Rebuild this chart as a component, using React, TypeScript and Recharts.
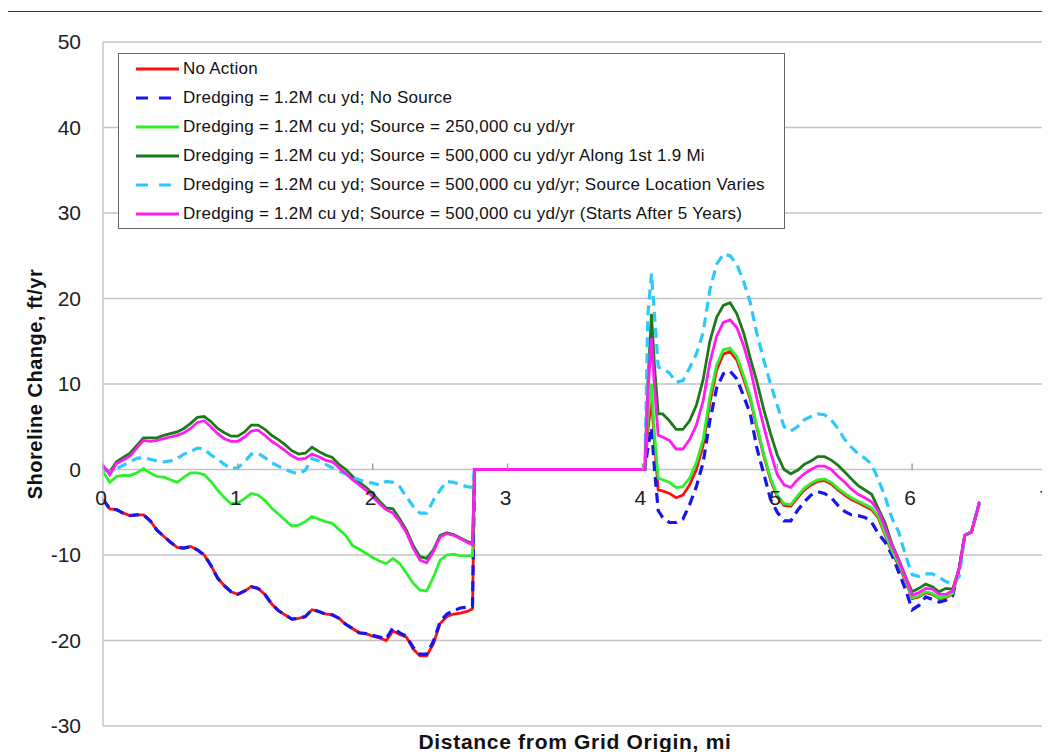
import React from "react";
import { LineChart, Line, XAxis, YAxis, CartesianGrid, Legend, Label } from "recharts";

// Distance from grid origin (mi)
const distanceMi = [
  0, 0.05, 0.1, 0.15, 0.2, 0.25, 0.3, 0.35, 0.4, 0.45,
  0.5, 0.55, 0.6, 0.65, 0.7, 0.75, 0.8, 0.85, 0.9, 0.95,
  1.0, 1.05, 1.1, 1.15, 1.2, 1.25, 1.3, 1.35, 1.4, 1.45,
  1.5, 1.55, 1.6, 1.65, 1.7, 1.75, 1.8, 1.85, 1.9, 1.95,
  2.0, 2.05, 2.1, 2.15, 2.2, 2.25, 2.3, 2.35, 2.4, 2.45,
  2.5, 2.55, 2.6, 2.65, 2.7, 2.74, 2.755,
  4.018, 4.04, 4.067, 4.09, 4.117,
  4.15, 4.2, 4.25, 4.3, 4.35, 4.4, 4.45, 4.5, 4.55, 4.6,
  4.65, 4.7, 4.75, 4.8, 4.85, 4.9, 4.95, 5.0, 5.05, 5.1,
  5.15, 5.2, 5.25, 5.3, 5.35, 5.4, 5.45, 5.5, 5.55, 5.6,
  5.65, 5.7, 5.75, 5.8, 5.85, 5.9, 5.95, 6.0, 6.05, 6.1,
  6.15, 6.2, 6.25, 6.3, 6.35, 6.39, 6.44, 6.5,
];

const noAction = [
  -3.5, -4.6, -4.7, -5.1, -5.4, -5.3, -5.3, -6.0, -7.1, -7.8,
  -8.5, -9.1, -9.2, -9.0, -9.4, -10.0, -11.2, -12.7, -13.6, -14.3,
  -14.6, -14.2, -13.7, -13.9, -14.6, -15.7, -16.5, -17.0, -17.5, -17.4,
  -17.2, -16.4, -16.6, -16.9, -17.0, -17.4, -18.1, -18.6, -19.1, -19.2,
  -19.5, -19.7, -20.0, -18.9, -19.3, -19.6, -21.0, -21.8, -21.8, -20.4,
  -18.0, -17.2, -16.9, -16.8, -16.6, -16.3, 0,
  0, 4.5, 8.3, 3.0, -2.4,
  -2.5, -2.8, -3.3, -3.0, -1.8, 0.0, 2.8, 7.8, 11.6, 13.5,
  13.8, 12.8, 10.6, 8.2, 4.8, 1.6, -1.2, -3.2, -4.2, -4.3,
  -3.3, -2.4, -1.8, -1.4, -1.3, -1.7, -2.4, -3.0, -3.5, -3.9,
  -4.3, -4.7, -5.7, -7.7, -9.7, -11.2, -13.0, -15.1, -14.9, -14.4,
  -14.6, -15.1, -15.0, -14.6, -11.5, -7.7, -7.3, -3.8,
];

const noSource = [
  -3.5, -4.6, -4.7, -5.1, -5.4, -5.3, -5.3, -6.0, -7.1, -7.8,
  -8.5, -9.1, -9.2, -9.0, -9.4, -10.0, -11.2, -12.7, -13.6, -14.3,
  -14.6, -14.2, -13.7, -13.9, -14.6, -15.7, -16.5, -17.0, -17.5, -17.4,
  -17.2, -16.4, -16.6, -16.9, -17.0, -17.4, -18.1, -18.6, -19.1, -19.2,
  -19.4, -19.6, -19.8, -18.5, -19.1, -19.5, -20.8, -21.6, -21.6, -20.1,
  -17.8, -16.9, -16.5, -16.2, -16.1, -16.0, 0,
  0, 2.5, 4.9, 0.0, -4.8,
  -5.6, -6.2, -6.2, -5.8, -4.1, -2.0, 0.8, 5.7, 9.5, 11.2,
  11.5, 10.6, 8.6, 6.5, 2.4, -0.5, -3.5, -5.0, -6.0, -6.0,
  -4.8, -3.8, -3.0, -2.6, -2.8, -3.3, -4.2, -4.9, -5.3, -5.4,
  -5.6, -6.2, -7.5, -8.5, -10.0, -12.0, -14.0, -16.4, -15.9, -14.9,
  -15.2, -15.5, -15.3, -14.8, -11.5, -7.7, -7.3, -3.8,
];

const source250k = [
  -0.3, -1.5, -0.8, -0.7, -0.7, -0.4, 0.1, -0.4, -0.8, -0.9,
  -1.2, -1.5, -0.9, -0.4, -0.4, -0.6, -1.4, -2.4, -3.3, -4.0,
  -3.9, -3.4, -2.8, -3.0, -3.6, -4.5, -5.2, -5.9, -6.6, -6.5,
  -6.1, -5.5, -5.8, -6.1, -6.3, -7.0, -7.7, -8.9, -9.3, -9.8,
  -10.3, -10.7, -11.0, -10.4, -11.0, -12.1, -13.3, -14.1, -14.2, -12.6,
  -10.6, -10.0, -9.9, -10.1, -10.1, -10.1, 0,
  0, 6.0, 10.0, 4.0, -1.0,
  -1.2, -1.5, -2.1, -2.0, -1.0, 0.8, 3.5, 8.5, 12.2, 14.0,
  14.2, 13.2, 11.0, 8.5, 5.0, 1.8, -1.0, -3.0, -4.0, -4.1,
  -3.1, -2.2, -1.6, -1.2, -1.1, -1.5, -2.2, -2.8, -3.3, -3.7,
  -4.1, -4.5, -5.5, -7.5, -9.5, -11.0, -12.8, -15.0, -14.8, -14.3,
  -14.5, -15.0, -14.9, -14.5, -11.5, -7.7, -7.3, -3.8,
];

const source500kFirst19 = [
  0.3, -0.3, 0.9, 1.4, 1.9, 2.8, 3.7, 3.7, 3.7, 4.0,
  4.2, 4.4, 4.8, 5.4, 6.1, 6.2, 5.6, 4.8, 4.3, 3.9,
  3.9, 4.4, 5.2, 5.2, 4.7, 4.0, 3.5, 2.9, 2.2, 1.8,
  1.9, 2.6, 2.1, 1.7, 1.4, 0.6, 0.0, -0.8, -1.5, -2.1,
  -2.8, -3.7, -4.5, -4.6, -5.8, -7.1, -8.9, -10.2, -10.4, -9.4,
  -7.7, -7.4, -7.6, -8.0, -8.4, -8.6, 0,
  0, 10.0, 18.2, 12.0, 6.5,
  6.5, 5.7, 4.7, 4.7, 5.7, 7.5, 10.5, 15.0, 17.8, 19.2,
  19.5, 18.2, 16.0, 13.0, 10.2, 7.0, 4.2, 1.7, 0.0, -0.5,
  -0.1, 0.6, 1.0, 1.5, 1.5, 1.1, 0.5, -0.3, -1.1, -1.9,
  -2.4, -2.9, -4.6, -6.3, -8.7, -10.5, -12.5, -14.3, -13.9, -13.4,
  -13.7, -14.3, -13.9, -14.0, -11.5, -7.7, -7.3, -3.8,
];

const sourceVaries = [
  0.0, -0.3, 0.1, 0.5, 0.9, 1.3, 1.4, 1.2, 1.0, 0.9,
  1.0, 1.3, 1.8, 2.1, 2.5, 2.4, 1.7, 1.2, 0.6, 0.1,
  0.2, 0.9, 1.8, 1.9, 1.4, 0.8, 0.4, 0.0, -0.3, -0.5,
  -0.1, 1.3, 1.0, 0.6, 0.2, -0.2, -0.5, -0.9, -1.2, -1.5,
  -1.6, -1.8, -1.4, -1.5, -2.0, -3.2, -4.3, -5.1, -5.1, -3.6,
  -2.4, -1.4, -1.5, -1.8, -2.0, -2.1, 0,
  0, 18.0, 22.9, 18.0, 12.0,
  11.8, 11.3, 10.2, 10.4, 11.9, 13.5, 16.0, 21.0, 24.0, 25.2,
  25.0, 24.0, 22.0, 19.5, 15.8, 12.8, 10.0, 7.5, 5.0, 4.5,
  5.0, 5.8, 6.2, 6.5, 6.4, 5.8, 4.8, 3.5, 2.6, 1.8,
  1.3, 0.6, -1.2, -3.2, -5.7, -7.3, -10.0, -12.3, -12.5, -12.2,
  -12.2, -12.6, -13.1, -13.4, -12.5, -7.7, -7.3, -3.8,
];

const startsAfter5 = [
  0.5, -0.6, 0.7, 1.1, 1.6, 2.5, 3.4, 3.3, 3.4, 3.6,
  3.8, 4.0, 4.3, 4.8, 5.5, 5.7, 5.0, 4.2, 3.6, 3.3,
  3.3, 3.8, 4.5, 4.6, 4.0, 3.3, 2.8, 2.2, 1.6, 1.2,
  1.3, 1.8, 1.5, 1.1, 0.9, 0.2, -0.5, -1.2, -1.8, -2.4,
  -3.2, -4.0, -4.7, -5.1, -6.1, -7.4, -9.2, -10.6, -10.9, -9.6,
  -7.9, -7.5, -7.7, -8.1, -8.5, -8.8, 0,
  0, 9.0, 15.4, 9.5, 4.0,
  3.8, 3.4, 2.4, 2.4, 3.5, 5.2, 8.0, 12.5, 15.6, 17.2,
  17.5, 16.6, 14.5, 11.8, 8.2, 5.0, 2.0, -0.6, -1.8, -2.1,
  -1.2, -0.5, 0.0, 0.4, 0.4, 0.0, -0.8, -1.5, -2.3, -2.9,
  -3.3, -3.8, -4.9, -6.8, -8.9, -10.6, -12.5, -14.7, -14.4, -13.9,
  -14.0, -14.6, -14.6, -14.2, -11.5, -7.7, -7.3, -3.8,
];

const xTicks = [0, 1, 2, 3, 4, 5, 6, 7];
const yTicks = [-30, -20, -10, 0, 10, 20, 30, 40, 50];

const seriesDefs = [
  { key: "noAction", name: "No Action", color: "#ff1010", dash: undefined as string | undefined, values: noAction },
  { key: "noSource", name: "Dredging = 1.2M cu yd; No Source", color: "#1515ee", dash: "10 6", values: noSource },
  { key: "s250", name: "Dredging = 1.2M cu yd; Source = 250,000 cu yd/yr", color: "#2ef02e", dash: undefined, values: source250k },
  { key: "s500a", name: "Dredging = 1.2M cu yd; Source = 500,000 cu yd/yr Along 1st 1.9 Mi", color: "#1c7a1c", dash: undefined, values: source500kFirst19 },
  { key: "s500v", name: "Dredging = 1.2M cu yd; Source = 500,000 cu yd/yr; Source Location Varies", color: "#2ec8ff", dash: "10 6", values: sourceVaries },
  { key: "s500d", name: "Dredging = 1.2M cu yd; Source = 500,000 cu yd/yr (Starts After 5 Years)", color: "#ff1cf0", dash: undefined, values: startsAfter5 },
];

const rows = distanceMi.map((d, i) => {
  const r: Record<string, number> = { d };
  seriesDefs.forEach((s) => {
    r[s.key] = s.values[i];
  });
  return r;
});

const W = 1042;
const H = 744;
const PLOT_TOP = 34;
const PLOT_BOTTOM = 718;
const Y_MIN = -30;
const Y_MAX = 50;
const ZERO_Y = PLOT_TOP + ((PLOT_BOTTOM - PLOT_TOP) * (Y_MAX - 0)) / (Y_MAX - Y_MIN);
const FONT = "'Liberation Sans', Arial, Helvetica, sans-serif";

const XTick = (props: any) => {
  const { x, payload } = props;
  return (
    <g>
      <line x1={x} x2={x} y1={ZERO_Y - 6} y2={ZERO_Y} stroke="#a0a0a0" strokeWidth={1.5} />
      <text x={x - 2} y={ZERO_Y + 28} textAnchor="middle" dominantBaseline="central" fontSize={21} fill="#222" fontFamily={FONT}>
        {payload.value}
      </text>
    </g>
  );
};

const LegendBox = () => (
  <div
    style={{
      width: 665,
      height: 174,
      border: "1.5px solid #666",
      background: "#fff",
      boxSizing: "content-box",
      fontFamily: FONT,
      fontSize: 17,
      letterSpacing: 0.25,
      color: "#111",
      position: "relative",
    }}
  >
    {seriesDefs.map((s, i) => (
      <div key={s.key} style={{ position: "absolute", left: 0, top: 15 + i * 29 - 10, height: 20, display: "flex", alignItems: "center", whiteSpace: "nowrap" }}>
        <svg width={64} height={20} style={{ display: "block" }}>
          <line x1={17} x2={60} y1={10} y2={10} stroke={s.color} strokeWidth={3} strokeDasharray={s.dash ? "12 11" : undefined} />
        </svg>
        <span>{s.name}</span>
      </div>
    ))}
  </div>
);

export default function App() {
  return (
    <div style={{ position: "relative", width: W, height: H }}>
      <div
        style={{
          position: "absolute",
          left: -1,
          top: 3,
          width: W + 1,
          height: H - 3,
          borderTop: "1.5px solid #333",
          borderLeft: "1.5px solid #333",
          boxSizing: "border-box",
          pointerEvents: "none",
        }}
      />
      <LineChart width={W} height={H} data={rows} margin={{ top: PLOT_TOP, right: 3, bottom: 0, left: 0 }}>
        <CartesianGrid horizontal vertical={false} stroke="#c4c4c4" strokeWidth={1.5} />
        <XAxis
          dataKey="d"
          type="number"
          domain={[0, 7]}
          ticks={xTicks}
          axisLine={false}
          tickLine={false}
          height={26}
          tick={<XTick />}
          interval={0}
        >
          <Label
            content={() => (
              <text x={567} y={741} textAnchor="middle" fontSize={21} letterSpacing={0.7} fontWeight="bold" fill="#111" fontFamily={FONT}>
                Distance from Grid Origin, mi
              </text>
            )}
          />
        </XAxis>
        <YAxis
          type="number"
          domain={[Y_MIN, Y_MAX]}
          ticks={yTicks}
          width={95}
          axisLine={{ stroke: "#c4c4c4", strokeWidth: 1.5 }}
          tickLine={false}
          tickSize={0}
          tickMargin={22}
          tick={{ fontSize: 21, fill: "#222", fontFamily: FONT }}
          interval={0}
        >
          <Label
            content={() => (
              <text
                x={27}
                y={(PLOT_TOP + PLOT_BOTTOM) / 2}
                transform={`rotate(-90 27 ${(PLOT_TOP + PLOT_BOTTOM) / 2})`}
                textAnchor="middle"
                dominantBaseline="central"
                fontSize={20}
                letterSpacing={0.5}
                fontWeight="bold"
                fill="#111"
                fontFamily={FONT}
              >
                Shoreline Change, ft/yr
              </text>
            )}
          />
        </YAxis>
        <Legend
          layout="vertical"
          align="center"
          verticalAlign="middle"
          content={() => <LegendBox />}
          wrapperStyle={{ position: "absolute", left: 110, top: 45, width: 668, height: 177 }}
        />
        {seriesDefs.map((s) => (
          <Line
            key={s.key}
            dataKey={s.key}
            name={s.name}
            type="linear"
            stroke={s.color}
            strokeWidth={s.dash ? 3.2 : 2.8}
            strokeDasharray={s.dash}
            dot={false}
            activeDot={false}
            isAnimationActive={false}
          />
        ))}
      </LineChart>
    </div>
  );
}
